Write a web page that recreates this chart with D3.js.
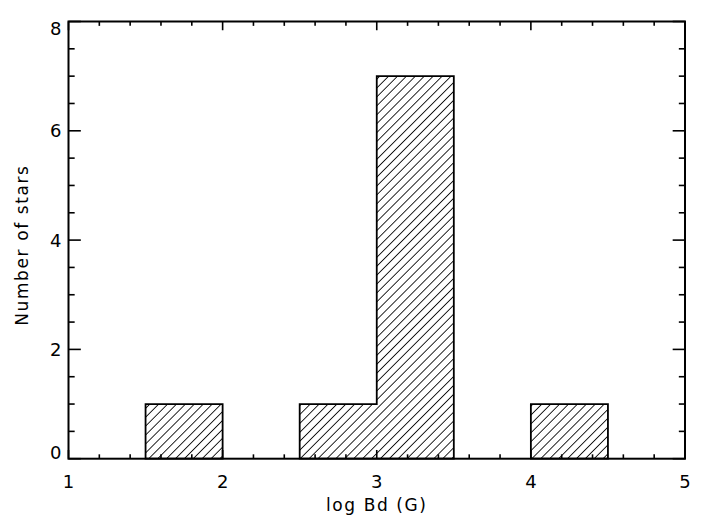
<!DOCTYPE html>
<html>
  <head>
    <script src="https://cdn.jsdelivr.net/npm/d3@7"></script>
    <style>
      body { margin: 0; background: #fff; }
      text { font-family: "DejaVu Sans", sans-serif; font-size: 18px; fill: #000; }
    </style>
  </head>
  <body>
    <script>
      // histogram bins (log Bd) and counts
      var binEdges = [1.0, 1.5, 2.0, 2.5, 3.0, 3.5, 4.0, 4.5, 5.0];
      var counts = [0, 1, 0, 1, 7, 0, 1, 0];
      var xTicks = [1, 2, 3, 4, 5];
      var yTicks = [0, 2, 4, 6, 8];

      var W = 709, H = 529;
      var margin = {top: 21.5, right: 24, bottom: 70.3, left: 68.5},
          width = W - margin.left - margin.right,
          height = H - margin.top - margin.bottom;

      var svg = d3.select("body").append("svg")
          .attr("width", W)
          .attr("height", H);

      // hatch pattern
      svg.append("defs").append("pattern")
          .attr("id", "hatch")
          .attr("patternUnits", "userSpaceOnUse")
          .attr("width", 6.3).attr("height", 6.3)
          .attr("patternTransform", "rotate(45)")
        .append("line")
          .attr("x1", 0).attr("y1", 0).attr("x2", 0).attr("y2", 6.3)
          .attr("stroke", "#000").attr("stroke-width", 1.7);

      var g = svg.append("g")
          .attr("transform", "translate(" + margin.left + "," + margin.top + ")");

      var x = d3.scaleLinear().domain([1, 5]).range([0, width]);
      var y = d3.scaleLinear().domain([0, 8]).range([height, 0]);

      // group contiguous non-zero bins into outlines
      var groups = [], cur = null;
      counts.forEach(function(c, i) {
        if (c > 0) {
          if (!cur) { cur = []; groups.push(cur); }
          cur.push(i);
        } else cur = null;
      });

      groups.forEach(function(grp) {
        var pts = [[binEdges[grp[0]], 0]];
        grp.forEach(function(i) {
          pts.push([binEdges[i], counts[i]]);
          pts.push([binEdges[i + 1], counts[i]]);
        });
        pts.push([binEdges[grp[grp.length - 1] + 1], 0]);
        var line = d3.line().x(function(d) { return x(d[0]); }).y(function(d) { return y(d[1]); });
        g.append("path")
            .attr("d", line(pts) + "Z")
            .attr("fill", "url(#hatch)")
            .attr("stroke", "#000")
            .attr("stroke-width", 1.8)
            .attr("stroke-linejoin", "miter");
      });

      // ticks: x majors 1..5, minor every 0.2 ; y majors every 2, minor every 0.5
      var xMinor = d3.range(1, 5.001, 0.2);
      var yMinor = d3.range(0, 8.001, 0.5);
      var xMajLen = 0.02 * height, yMajLen = 0.02 * width;

      function isMajor(v, step) { return Math.abs(v / step - Math.round(v / step)) < 1e-6; }

      var tk = g.append("g").attr("stroke", "#000").attr("stroke-width", 1.6);
      xMinor.forEach(function(v) {
        var len = isMajor(v, 1) ? xMajLen : xMajLen / 2;
        tk.append("line").attr("x1", x(v)).attr("x2", x(v)).attr("y1", height).attr("y2", height - len);
        tk.append("line").attr("x1", x(v)).attr("x2", x(v)).attr("y1", 0).attr("y2", len);
      });
      yMinor.forEach(function(v) {
        var len = isMajor(v, 2) ? yMajLen : yMajLen / 2;
        tk.append("line").attr("y1", y(v)).attr("y2", y(v)).attr("x1", 0).attr("x2", len);
        tk.append("line").attr("y1", y(v)).attr("y2", y(v)).attr("x1", width).attr("x2", width - len);
      });

      // frame
      g.append("rect")
          .attr("width", width).attr("height", height)
          .attr("fill", "none").attr("stroke", "#000").attr("stroke-width", 2);

      // tick labels
      g.selectAll(".xl").data(xTicks).enter().append("text")
          .attr("x", function(d) { return x(d); })
          .attr("y", height + 29)
          .attr("text-anchor", "middle")
          .text(function(d) { return d; });

      g.selectAll(".yl").data(yTicks).enter().append("text")
          .attr("x", -7)
          .attr("y", function(d) { return Math.min(Math.max(y(d), 7), height - 6); })
          .attr("dy", "0.36em")
          .attr("text-anchor", "end")
          .text(function(d) { return d; });

      // axis titles
      g.append("text")
          .attr("x", width / 2)
          .attr("y", height + 52)
          .attr("text-anchor", "middle")
          .style("font-size", "17px")
          .style("letter-spacing", "1.6px")
          .text("log Bd (G)");

      g.append("text")
          .attr("transform", "translate(" + (-41) + "," + (height / 2 + 5) + ") rotate(-90)")
          .attr("text-anchor", "middle")
          .style("font-size", "17px")
          .style("letter-spacing", "1.6px")
          .text("Number of stars");
    </script>
  </body>
</html>
